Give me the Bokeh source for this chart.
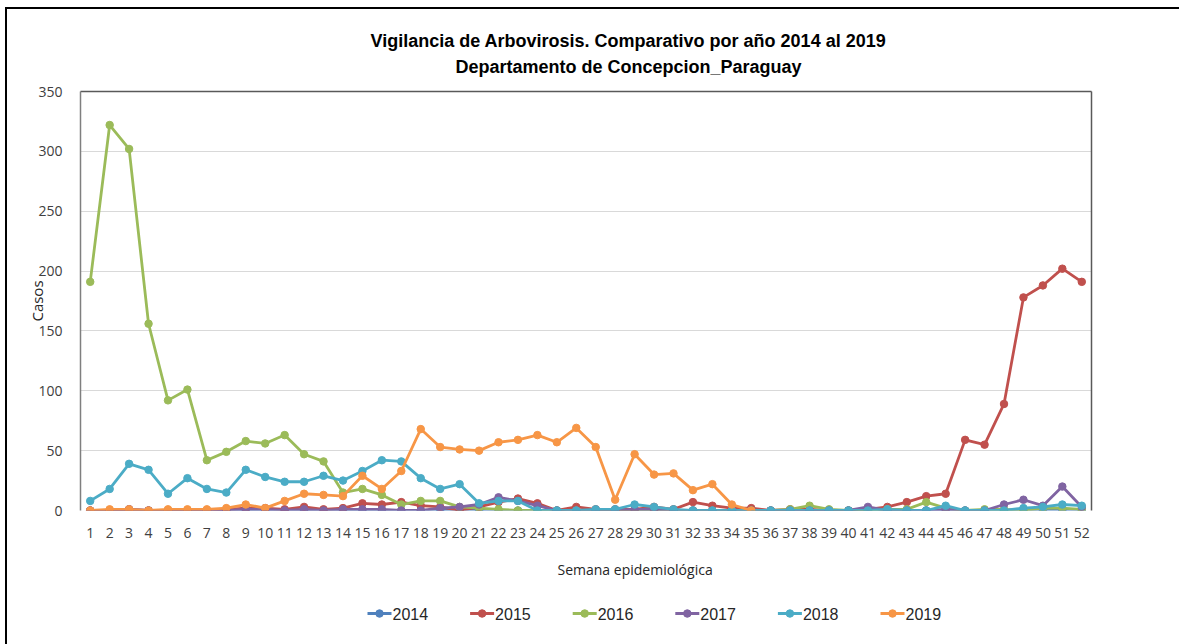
from bokeh.plotting import figure
from bokeh.layouts import column
from bokeh.models import (ColumnDataSource, Range1d, LinearAxis, Title,
                          FixedTicker, SingleIntervalTicker)
from bokeh.core.properties import value
from bokeh.embed import file_html
from bokeh.resources import INLINE

# ---------------- data ----------------
weeks = list(range(1, 53))
weeks_2019 = list(range(1, 36))
years = ["2014", "2015", "2016", "2017", "2018", "2019"]

cases_2014 = [0, 0, 0, 0, 0, 0, 0, 0, 0, 0,
              0, 0, 0, 0, 0, 0, 0, 0, 0, 0,
              0, 0, 0, 0, 0, 0, 0, 0, 0, 0,
              0, 0, 0, 0, 0, 0, 0, 0, 0, 0,
              0, 0, 0, 0, 0, 0, 0, 0, 0, 0,
              0, 0]
cases_2015 = [0, 0, 1, 0, 0, 0, 0, 1, 2, 2,
              1, 3, 1, 2, 6, 5, 7, 4, 3, 0,
              3, 7, 10, 6, 0, 3, 1, 1, 1, 3,
              1, 7, 4, 2, 2, 0, 1, 1, 0, 0,
              1, 3, 7, 12, 14, 59, 55, 89, 178, 188,
              202, 191]
cases_2016 = [191, 322, 302, 156, 92, 101, 42, 49, 58, 56,
              63, 47, 41, 15, 18, 13, 5, 8, 8, 3,
              2, 1, 0, 0, 0, 0, 0, 0, 0, 0,
              0, 0, 0, 0, 0, 0, 1, 4, 1, 0,
              0, 1, 1, 7, 2, 0, 1, 1, 0, 2,
              2, 1]
cases_2017 = [0, 0, 1, 0, 0, 0, 0, 0, 1, 1,
              0, 1, 0, 1, 1, 1, 0, 0, 2, 3,
              5, 11, 8, 4, 0, 0, 0, 0, 1, 1,
              0, 0, 0, 0, 0, 0, 0, 0, 0, 0,
              3, 0, 0, 0, 1, 0, 0, 5, 9, 4,
              20, 3]
cases_2018 = [8, 18, 39, 34, 14, 27, 18, 15, 34, 28,
              24, 24, 29, 25, 33, 42, 41, 27, 18, 22,
              6, 8, 8, 0, 0, 0, 1, 1, 5, 3,
              1, 0, 0, 0, 0, 0, 0, 0, 0, 0,
              0, 1, 0, 0, 4, 0, 0, 0, 2, 3,
              5, 4]
cases_2019 = [0, 1, 1, 0, 1, 1, 1, 2, 5, 2,
              8, 14, 13, 12, 29, 18, 33, 68, 53, 51,
              50, 57, 59, 63, 57, 69, 53, 9, 47, 30,
              31, 17, 22, 5, 0]

y_ticks = [0, 50, 100, 150, 200, 250, 300, 350]

colors = ["#4F81BD", "#C0504D", "#9BBB59", "#8064A2", "#4BACC6", "#F79646"]

TITLEFONT = "Liberation Sans"
AXISFONT = "Open Sans"
W = 1163
BL, BR = 80, 72

p = figure(width=W, height=596, output_backend="svg", toolbar_location=None,
           x_range=Range1d(0.5, 52.5), y_range=Range1d(0, 350),
           min_border_left=BL, min_border_right=BR, min_border_top=91,
           min_border_bottom=86, background_fill_color="white",
           border_fill_alpha=0)
p.outline_line_color = None

# axes
p.xaxis.ticker = SingleIntervalTicker(interval=1)
p.yaxis.ticker = FixedTicker(ticks=y_ticks)
for ax in (p.xaxis[0], p.yaxis[0]):
    ax.major_tick_line_color = None
    ax.minor_tick_line_color = None
    ax.major_label_text_font = AXISFONT
    ax.major_label_text_font_size = "14px"
    ax.major_label_text_color = "#404040"
p.xaxis.axis_line_color = None
p.xaxis.major_label_standoff = 11
p.yaxis.axis_line_color = "#7F7F7F"
p.yaxis.axis_line_width = 1.5
p.yaxis.major_label_standoff = 12
p.yaxis.axis_label = "Casos"
p.yaxis.axis_label_text_font = AXISFONT
p.yaxis.axis_label_text_font_style = "normal"
p.yaxis.axis_label_text_font_size = "15px"
p.yaxis.axis_label_text_color = "#262626"
p.yaxis.axis_label_standoff = -12

# top and right frame lines
for side in ("right", "above"):
    p.add_layout(LinearAxis(major_tick_line_color=None, minor_tick_line_color=None,
                            major_label_text_font_size="0px", axis_line_color="#595959",
                            axis_line_width=1.5, ticker=FixedTicker(ticks=[])), side)

p.xgrid.grid_line_color = None
p.ygrid.grid_line_color = "#D9D9D9"
p.ygrid.grid_line_width = 1

series = [cases_2014, cases_2015, cases_2016, cases_2017, cases_2018, cases_2019]
for yr, vals, col in zip(years, series, colors):
    xs = weeks_2019 if yr == "2019" else weeks
    src = ColumnDataSource(dict(week=xs, casos=vals))
    p.line("week", "casos", source=src, line_color=col, line_width=2.8)
    p.scatter("week", "casos", source=src, size=7.5, fill_color=col,
              line_color=col, marker="circle")

# titles (above): last added is the top-most
p.add_layout(Title(text="Departamento de Concepcion_Paraguay", align="left",
                   offset=375, text_font=TITLEFONT, text_font_style="bold",
                   text_font_size="18px", text_color="#000000", standoff=30), "above")
p.add_layout(Title(text="Vigilancia de Arbovirosis. Comparativo por año 2014 al 2019",
                   align="left", offset=290, text_font=TITLEFONT, text_font_style="bold",
                   text_font_size="18px", text_color="#000000", standoff=-22), "above")

# x-axis label (below)
p.add_layout(Title(text="Semana epidemiológica", align="left", offset=477,
                   text_font=AXISFONT, text_font_style="normal",
                   text_font_size="14px", text_color="#262626", standoff=34), "below")

# ---------------- legend strip (separate small figure, frame aligned with p) ----------------
LH = 32
leg = figure(width=W, height=LH, output_backend="svg", toolbar_location=None,
             x_range=Range1d(BL, W - BR), y_range=Range1d(0, LH), min_border=0,
             x_axis_type=None, y_axis_type=None, border_fill_alpha=0,
             background_fill_alpha=0)
leg.outline_line_color = None
leg.xgrid.visible = False
leg.ygrid.visible = False

start, step, key_w, yc = 367, 102.6, 24, 15
x0 = [start + i * step for i in range(len(years))]
lsrc = ColumnDataSource(dict(
    x0=x0, x1=[x + key_w for x in x0], xm=[x + key_w / 2 for x in x0],
    xt=[x + key_w + 1 for x in x0], y=[yc] * len(years), label=years, color=colors))
leg.segment(x0="x0", y0="y", x1="x1", y1="y", source=lsrc, line_color="color",
            line_width=2.8)
leg.scatter(x="xm", y="y", source=lsrc, size=7.5, fill_color="color",
            line_color="color", marker="circle")
leg.text(x="xt", y="y", text="label", source=lsrc, text_font=value(TITLEFONT),
         text_font_size="16px", text_baseline="middle", text_align="left",
         text_color="#262626")

layout = column(p, leg, spacing=0)
layout.stylesheets = [":host::before { content: ''; position: absolute; left: 5px; "
                      "top: 7px; width: 3000px; height: 3000px; "
                      "border-top: 2px solid #000; border-left: 2px solid #000; "
                      "pointer-events: none; }"]

open("out.html", "w").write(file_html(layout, INLINE))
